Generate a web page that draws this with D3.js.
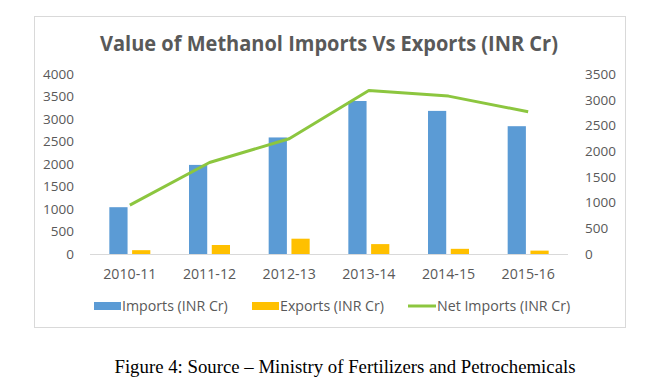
<!DOCTYPE html>
<html><head><meta charset="utf-8">
<script src="https://cdn.jsdelivr.net/npm/d3@7"></script>
<style>html,body{margin:0;padding:0;background:#fff;}svg{display:block;}</style>
</head><body>
<script>
const categories = ["2010-11","2011-12","2012-13","2013-14","2014-15","2015-16"];
const imports = [1040, 1980, 2590, 3400, 3180, 2840];
const exports_ = [85, 200, 340, 220, 115, 75];
const netImports = [950, 1780, 2240, 3180, 3070, 2765];
const leftTicks = [0,500,1000,1500,2000,2500,3000,3500,4000];
const rightTicks = [0,500,1000,1500,2000,2500,3000,3500];
const seriesNames = ["Imports (INR Cr)","Exports (INR Cr)","Net Imports (INR Cr)"];
const titleText = "Value of Methanol Imports Vs Exports (INR Cr)";
const captionText = "Figure 4: Source \u2013 Ministry of Fertilizers and Petrochemicals";

const W = 662, H = 382;
const cBlue = "#5B9BD5", cGold = "#FFC000", cGreen = "#8CC63F", cText = "#595959";
const font = "'Open Sans', sans-serif";

const svg = d3.select("body").append("svg").attr("width", W).attr("height", H);

// chart border
svg.append("rect").attr("x", 34.5).attr("y", 16.5).attr("width", 591).attr("height", 311)
  .attr("fill", "#fff").attr("stroke", "#D9D9D9").attr("stroke-width", 1);

// title
svg.append("text").attr("x", 329).attr("y", 51).attr("text-anchor", "middle")
  .attr("font-family", font).attr("font-weight", "bold").attr("font-size", 21.5)
  .attr("fill", cText).attr("textLength", 458).attr("lengthAdjust", "spacingAndGlyphs")
  .text(titleText);

const x0 = d3.scaleBand().domain(categories).range([90, 568]);
const x1 = d3.scaleBand().domain(["imp","exp"]).range([-20.5, 20.5]).paddingInner(0.2);
const yL = d3.scaleLinear().domain([0, 4000]).range([254, 74]);
const yR = d3.scaleLinear().domain([0, 3500]).range([254, 74]);

// left axis
const axL = svg.append("g").attr("transform", "translate(74,0)")
  .call(d3.axisLeft(yL).tickValues(leftTicks).tickSize(0).tickPadding(0).tickFormat(d3.format("d")));
axL.select(".domain").remove();
axL.selectAll("text").attr("font-family", font).attr("font-size", 13.5).attr("fill", cText);

// right axis
const axR = svg.append("g").attr("transform", "translate(585,0)")
  .call(d3.axisRight(yR).tickValues(rightTicks).tickSize(0).tickPadding(0).tickFormat(d3.format("d")));
axR.select(".domain").remove();
axR.selectAll("text").attr("font-family", font).attr("font-size", 13.5).attr("fill", cText);

// bars
const g = svg.append("g");
categories.forEach((c, i) => {
  const cx = x0(c) + x0.bandwidth() / 2;
  g.append("rect").attr("x", cx + x1("imp")).attr("width", x1.bandwidth())
    .attr("y", yL(imports[i])).attr("height", yL(0) - yL(imports[i])).attr("fill", cBlue);
  g.append("rect").attr("x", cx + x1("exp")).attr("width", x1.bandwidth())
    .attr("y", yL(exports_[i])).attr("height", yL(0) - yL(exports_[i])).attr("fill", cGold);
});

// bottom axis
const axB = svg.append("g").attr("transform", "translate(0,254.5)")
  .call(d3.axisBottom(x0).tickSize(0).tickPadding(0));
axB.select(".domain").attr("stroke", "#D9D9D9").attr("d", "M90,0H568");
axB.selectAll("text").attr("font-family", font).attr("font-size", 14.2).attr("fill", cText)
  .attr("dy", null).attr("y", 24.5);

// net imports line
const line = d3.line().x((d, i) => x0(categories[i]) + x0.bandwidth() / 2).y(d => yR(d));
svg.append("path").datum(netImports).attr("d", line).attr("fill", "none")
  .attr("stroke", cGreen).attr("stroke-width", 3).attr("stroke-linejoin", "round");

// legend
const ly = 306;
const leg = svg.append("g").attr("font-family", font).attr("font-size", 14.2).attr("fill", cText);
leg.append("rect").attr("x", 94).attr("y", ly - 4).attr("width", 27).attr("height", 8).attr("fill", cBlue);
leg.append("text").attr("x", 122).attr("y", ly + 5).text(seriesNames[0]);
leg.append("rect").attr("x", 252).attr("y", ly - 4).attr("width", 27).attr("height", 8).attr("fill", cGold);
leg.append("text").attr("x", 280).attr("y", ly + 5).text(seriesNames[1]);
leg.append("line").attr("x1", 408).attr("x2", 436).attr("y1", ly).attr("y2", ly)
  .attr("stroke", cGreen).attr("stroke-width", 3);
leg.append("text").attr("x", 437).attr("y", ly + 5).text(seriesNames[2]);

// caption
svg.append("text").attr("x", 345).attr("y", 373).attr("text-anchor", "middle")
  .attr("font-family", "'Liberation Serif', 'Times New Roman', serif").attr("font-size", 18.8)
  .attr("fill", "#000").text(captionText);
</script>
</body></html>
